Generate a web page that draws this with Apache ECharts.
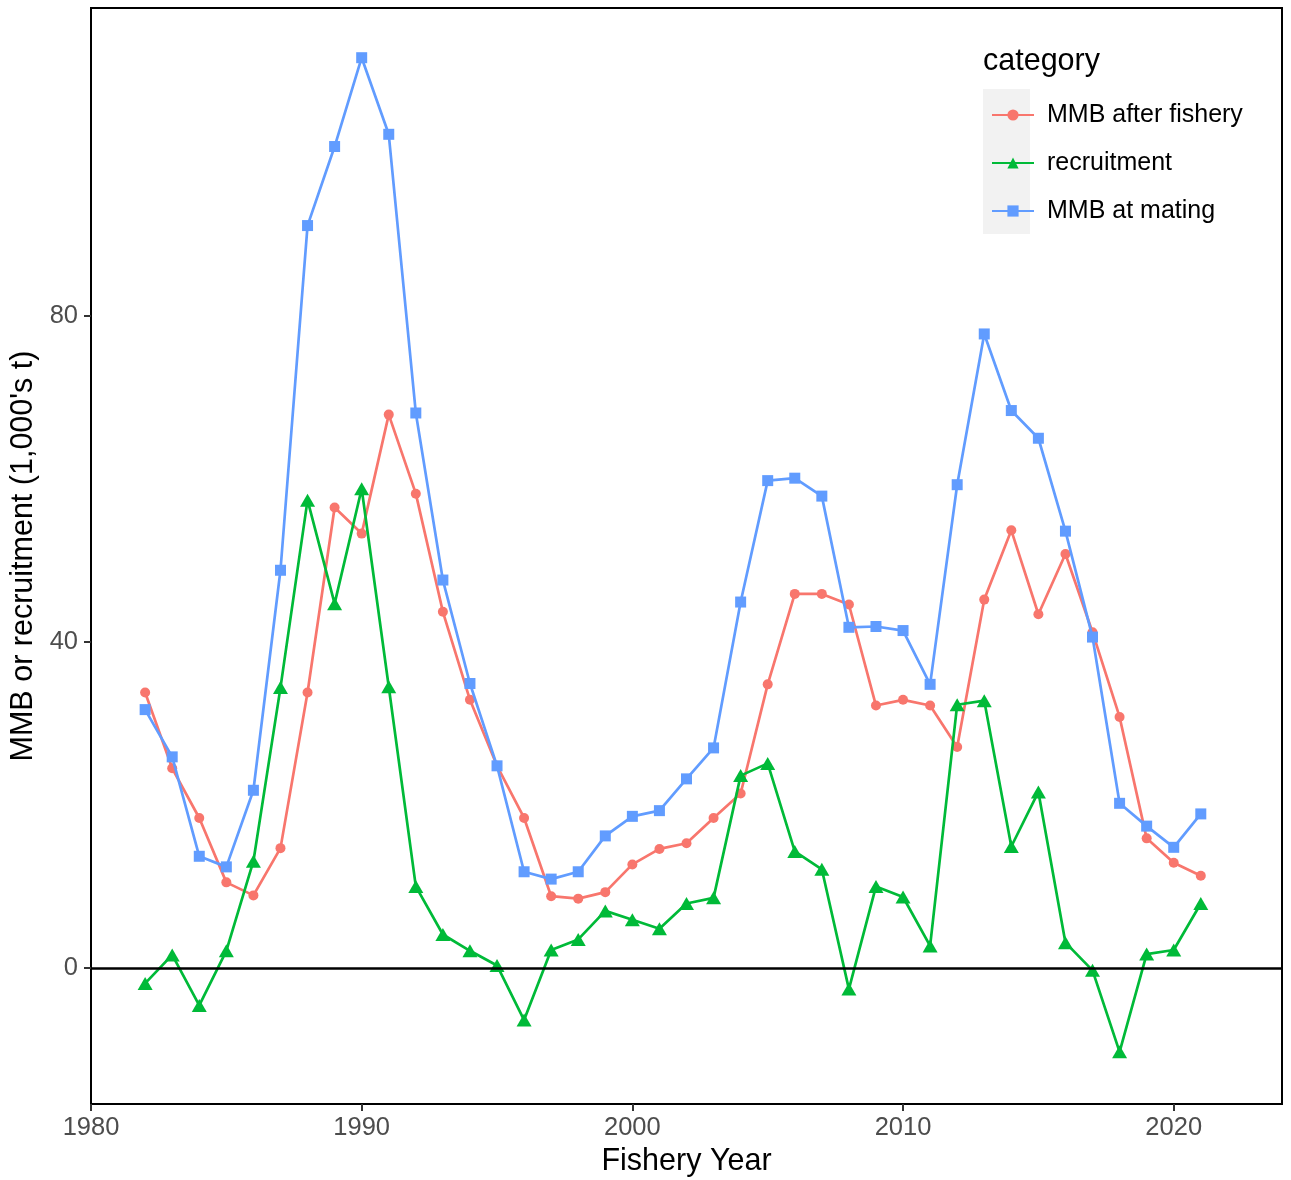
<!DOCTYPE html>
<html>
<head>
<meta charset="utf-8">
<script src="https://cdn.jsdelivr.net/npm/echarts@6/dist/echarts.min.js"></script>
<style>
html,body{margin:0;padding:0;background:#fff;}
#chart{width:1291px;height:1180px;}
</style>
</head>
<body>
<div id="chart"></div>
<script>
const years = [1982,1983,1984,1985,1986,1987,1988,1989,1990,1991,1992,1993,1994,1995,1996,1997,1998,1999,2000,2001,2002,2003,2004,2005,2006,2007,2008,2009,2010,2011,2012,2013,2014,2015,2016,2017,2018,2019,2020,2021];
const mmbAfterFishery = [33.8,24.5,18.4,10.5,8.9,14.7,33.8,56.5,53.3,67.9,58.2,43.7,32.9,24.8,18.4,8.8,8.5,9.3,12.7,14.6,15.3,18.4,21.4,34.8,45.9,45.9,44.6,32.2,32.9,32.2,27.1,45.2,53.7,43.4,50.8,41.2,30.8,15.9,12.9,11.3];
const recruitment = [-1.9,1.6,-4.6,2.1,13.1,34.4,57.4,44.7,58.8,34.5,10.0,4.1,2.1,0.3,-6.4,2.2,3.5,7.0,5.9,4.8,7.9,8.6,23.6,25.1,14.3,12.1,-2.6,10.0,8.7,2.7,32.3,32.8,14.9,21.6,3.1,-0.3,-10.3,1.7,2.2,7.9];
const mmbAtMating = [31.7,25.9,13.7,12.4,21.8,48.8,91.1,100.8,111.7,102.3,68.1,47.6,34.9,24.8,11.8,10.9,11.8,16.2,18.6,19.3,23.2,27.0,44.9,59.8,60.1,57.9,41.8,41.9,41.4,34.8,59.3,77.8,68.4,65.0,53.6,40.6,20.2,17.4,14.8,18.9];
const xTicks = [1980,1990,2000,2010,2020];
const yTicks = [0,40,80];
const seriesNames = ['MMB after fishery','recruitment','MMB at mating'];
const seriesColors = ['#F8766D','#00BA38','#619CFF'];

const FONT = '"Liberation Sans", Arial, Helvetica, sans-serif';
const pair = arr => years.map((y,i)=>[y,arr[i]]);

const chart = echarts.init(document.getElementById('chart'), null, {renderer:'canvas'});
chart.setOption({
  animation:false,
  backgroundColor:'#ffffff',
  grid:{left:91,right:9,top:8,bottom:76,show:true,borderColor:'#000',borderWidth:2,backgroundColor:'transparent',
        containLabel:false,outerBoundsMode:'none'},
  xAxis:{
    type:'value',min:1980,max:2024,
    name:'Fishery Year',nameLocation:'middle',nameGap:42,
    nameTextStyle:{fontFamily:FONT,fontSize:30.5,color:'#000'},
    axisLine:{show:true,onZero:false,lineStyle:{color:'#000',width:2}},
    axisTick:{show:true,length:7,customValues:xTicks,lineStyle:{color:'#333',width:2}},
    axisLabel:{customValues:xTicks,margin:11,fontFamily:FONT,fontSize:25.5,color:'#4D4D4D',formatter:v=>String(v)},
    splitLine:{show:false}
  },
  yAxis:{
    type:'value',min:-16.7,max:117.8,
    name:"MMB or recruitment (1,000's t)",nameLocation:'middle',nameGap:50,
    nameTextStyle:{fontFamily:FONT,fontSize:30.5,color:'#000'},
    axisLine:{show:true,onZero:false,lineStyle:{color:'#000',width:2}},
    axisTick:{show:true,length:7,customValues:yTicks,lineStyle:{color:'#333',width:2}},
    axisLabel:{customValues:yTicks,margin:13,fontFamily:FONT,fontSize:25.5,color:'#4D4D4D',formatter:v=>String(v)},
    splitLine:{show:false}
  },
  legend:{
    data:seriesNames,orient:'vertical',left:986,top:96,
    itemWidth:42,itemHeight:14,itemGap:20,
    textStyle:{fontFamily:FONT,fontSize:25,color:'#000',lineHeight:28,padding:[0,0,0,8]}
  },
  graphic:[
    {type:'rect',left:983,top:89,shape:{width:47,height:145},style:{fill:'#F2F2F2'},z:-1,silent:true},
    {type:'text',left:983,top:46,style:{text:'category',font:'30.5px '+FONT,fill:'#000'},silent:true}
  ],
  series:[
    {name:seriesNames[0],type:'line',data:pair(mmbAfterFishery),symbol:'circle',symbolSize:10,
     itemStyle:{color:seriesColors[0]},lineStyle:{color:seriesColors[0],width:2.7},z:2},
    {name:seriesNames[1],type:'line',data:pair(recruitment),symbol:'triangle',symbolSize:[15,13],
     itemStyle:{color:seriesColors[1]},lineStyle:{color:seriesColors[1],width:2.7},z:3},
    {name:seriesNames[2],type:'line',data:pair(mmbAtMating),symbol:'rect',symbolSize:11,
     itemStyle:{color:seriesColors[2]},lineStyle:{color:seriesColors[2],width:2.7},z:4,
     markLine:{silent:true,symbol:['none','none'],label:{show:false},
       lineStyle:{color:'#000',width:2.5,type:'solid'},data:[{yAxis:0}],z:10}}
  ]
});
</script>
</body>
</html>
